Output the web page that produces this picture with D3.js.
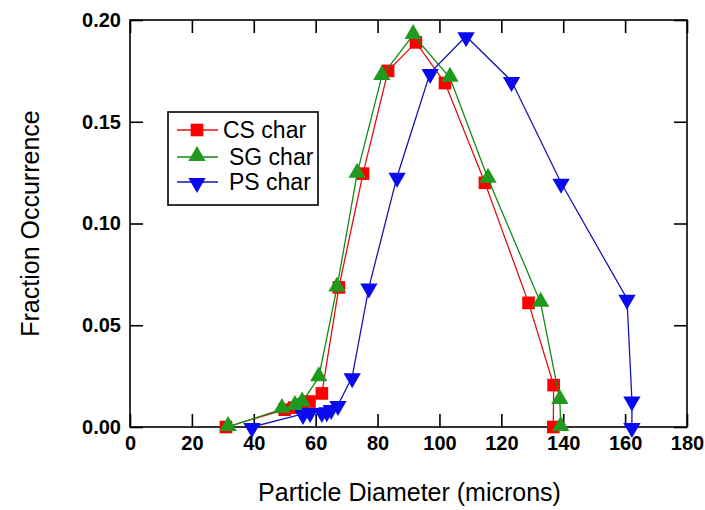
<!DOCTYPE html>
<html>
<head>
<meta charset="utf-8">
<script src="https://cdn.jsdelivr.net/npm/d3@7"></script>
<style>
  html, body { margin: 0; padding: 0; background: #fff; }
  svg { display: block; font-family: "Liberation Sans", Arial, sans-serif; }
</style>
</head>
<body>
<svg id="chart" width="705" height="510"></svg>
<script>
// Particle size distributions for three chars
const csDiameter = [31, 50, 53, 56, 58, 62, 67.5, 75.3, 83.4, 92.4, 101.8, 114.7, 128.8, 136.9, 136.8];
const csFraction = [0.000, 0.0085, 0.0095, 0.011, 0.0125, 0.0165, 0.0686, 0.1245, 0.175, 0.189, 0.169, 0.120, 0.061, 0.0206, 0.000];

const sgDiameter = [31.7, 49.1, 53.3, 55.6, 61, 66.9, 73.4, 81.4, 91.5, 103.4, 115.7, 132.7, 138.9, 139.2];
const sgFraction = [0.000, 0.0088, 0.0103, 0.012, 0.0245, 0.0686, 0.1245, 0.1725, 0.1926, 0.1716, 0.122, 0.061, 0.0133, 0.000];

const psDiameter = [39.4, 55.9, 58.2, 62, 63.6, 65, 67.2, 71.8, 77.2, 86.3, 97, 108.6, 123.3, 139.3, 160.6, 162.2, 162.2];
const psFraction = [0.000, 0.0064, 0.0074, 0.0074, 0.0078, 0.0088, 0.0108, 0.0245, 0.0686, 0.123, 0.174, 0.192, 0.170, 0.120, 0.063, 0.013, 0.000];

const xTicks = [0, 20, 40, 60, 80, 100, 120, 140, 160, 180];
const yTicks = [0.00, 0.05, 0.10, 0.15, 0.20];
const seriesNames = ["CS char", "SG char", "PS char"];

const series = [
  { name: seriesNames[0], x: csDiameter, y: csFraction, line: "#e01010", fill: "#ff0000", shape: "square" },
  { name: seriesNames[1], x: sgDiameter, y: sgFraction, line: "#138a13", fill: "#1f9a1f", shape: "up" },
  { name: seriesNames[2], x: psDiameter, y: psFraction, line: "#1515b0", fill: "#0a0aee", shape: "down" }
];

const svg = d3.select("#chart");
const L = 130, R = 687, T = 20, B = 427;

const x = d3.scaleLinear().domain([0, 180]).range([L, R]);
const y = d3.scaleLinear().domain([0, 0.20]).range([B, T]);

const tickLen = 13;

// Frame
svg.append("rect")
  .attr("x", L).attr("y", T).attr("width", R - L).attr("height", B - T)
  .attr("fill", "none").attr("stroke", "#000").attr("stroke-width", 1.6);

// Bottom axis with inward ticks and labels
const xAxisB = d3.axisBottom(x).tickValues(xTicks).tickSizeInner(-tickLen).tickSizeOuter(0)
  .tickPadding(9).tickFormat(d3.format("d"));
const gxb = svg.append("g").attr("transform", `translate(0,${B})`).call(xAxisB);

// Top axis ticks
const xAxisT = d3.axisTop(x).tickValues(xTicks).tickSizeInner(-tickLen).tickSizeOuter(0).tickFormat("");
const gxt = svg.append("g").attr("transform", `translate(0,${T})`).call(xAxisT);

// Left axis with inward ticks and labels
const yAxisL = d3.axisLeft(y).tickValues(yTicks).tickSizeInner(-tickLen).tickSizeOuter(0)
  .tickPadding(9).tickFormat(d3.format(".2f"));
const gyl = svg.append("g").attr("transform", `translate(${L},0)`).call(yAxisL);

// Right axis ticks
const yAxisR = d3.axisRight(y).tickValues(yTicks).tickSizeInner(-tickLen).tickSizeOuter(0).tickFormat("");
const gyr = svg.append("g").attr("transform", `translate(${R},0)`).call(yAxisR);

[gxb, gxt, gyl, gyr].forEach(g => {
  g.select(".domain").remove();
  g.selectAll(".tick line").attr("stroke", "#000").attr("stroke-width", 1.6);
  g.selectAll(".tick text")
    .attr("fill", "#000")
    .style("font-family", "'Liberation Sans', Arial, sans-serif")
    .style("font-size", "20px")
    .style("font-weight", "bold");
});

// Axis titles
svg.append("text")
  .attr("x", (L + R) / 2 + 1).attr("y", 501)
  .attr("text-anchor", "middle")
  .style("font-size", "25px")
  .text("Particle Diameter (microns)");

svg.append("text")
  .attr("transform", `translate(39,${(T + B) / 2}) rotate(-90)`)
  .attr("text-anchor", "middle")
  .style("font-size", "25px")
  .text("Fraction Occurrence");

// Marker shapes
const symbolFor = shape => {
  if (shape === "square") return d3.symbol().type(d3.symbolSquare).size(160)();
  return d3.symbol().type(d3.symbolTriangle).size(130)();
};

function drawMarker(g, s, cx, cy) {
  const p = g.append("path")
    .attr("d", symbolFor(s.shape))
    .attr("fill", s.fill)
    .attr("stroke", "none");
  const rot = s.shape === "down" ? " rotate(180)" : "";
  const dy = s.shape === "up" ? -1 : (s.shape === "down" ? 1 : 0);
  p.attr("transform", `translate(${cx},${cy + dy})${rot}`);
}

const line = d3.line().x(d => x(d[0])).y(d => y(d[1]));

series.forEach(s => {
  const pts = s.x.map((v, i) => [v, s.y[i]]);
  const g = svg.append("g");
  g.append("path")
    .datum(pts)
    .attr("d", line)
    .attr("fill", "none")
    .attr("stroke", s.line)
    .attr("stroke-width", 1.3);
  pts.forEach(p => drawMarker(g, s, x(p[0]), y(p[1])));
});

// Legend
const legend = svg.append("g");
legend.append("rect")
  .attr("x", 168).attr("y", 112).attr("width", 150).attr("height", 93)
  .attr("fill", "#fff").attr("stroke", "#000").attr("stroke-width", 1.6);

const legendRows = [130, 157, 182];
const legendTextX = [223, 229, 229];
series.forEach((s, i) => {
  const ly = legendRows[i];
  legend.append("line")
    .attr("x1", 177).attr("x2", 218).attr("y1", ly).attr("y2", ly)
    .attr("stroke", s.line).attr("stroke-width", 1.5);
  drawMarker(legend, s, 197, ly);
  legend.append("text")
    .attr("x", legendTextX[i]).attr("y", ly)
    .attr("dy", "0.35em")
    .style("font-size", "23px")
    .text(s.name);
});
</script>
</body>
</html>
